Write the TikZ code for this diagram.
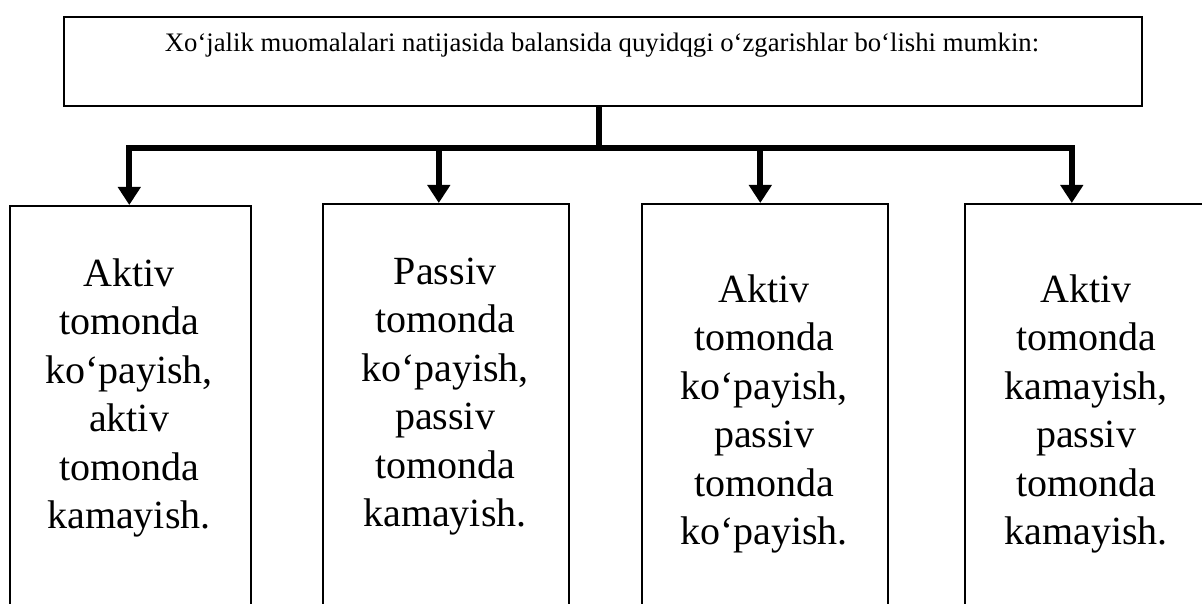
\documentclass[tikz,border=0pt]{standalone}
\usepackage{fontspec}
\setmainfont{Liberation Serif}
\usetikzlibrary{arrows.meta}

\tikzset{
  framebox/.style={draw=black, line width=1.6pt, rectangle, inner sep=0pt},
  colbox/.style={framebox, anchor=north west, minimum width=#1, minimum height=460pt},
  coltext/.style={anchor=base, inner sep=0pt, text width=240pt, align=center,
    font=\fontsize{40}{48.5}\selectfont},
  headtext/.style={anchor=base, inner sep=0pt, font=\fontsize{26.7}{32}\selectfont},
  conn/.style={line width=6pt, line join=miter},
  drop/.style={conn, -{Triangle[width=22pt,length=18pt]}}
}

\begin{document}
\begin{tikzpicture}[x=1pt,y=1pt]
  \useasboundingbox (0,0) rectangle (1202,-604);
  \clip (0,0) rectangle (1202,-604);

  % heading box
  \node[framebox, anchor=north west, minimum width=1078pt, minimum height=89pt]
    (head) at (63,-16) {};
  \node[headtext] (headlbl) at (602,-52)
    {Xo‘jalik muomalalari natijasida balansida quyidqgi o‘zgarishlar bo‘lishi mumkin:};

  % four columns (they run past the lower edge)
  \node[colbox=241pt] (b1) at (9,-205) {};
  \node[colbox=246pt] (b2) at (322,-203) {};
  \node[colbox=246pt] (b3) at (641,-203) {};
  \node[colbox=244pt] (b4) at (964,-203) {};

  \node[coltext] (t1) at (129,-286)
    {Aktiv\\tomonda\\ko‘payish,\\aktiv\\tomonda\\kamayish.};
  \node[coltext] (t2) at (445,-284)
    {Passiv\\tomonda\\ko‘payish,\\passiv\\tomonda\\kamayish.};
  \node[coltext] (t3) at (764,-302)
    {Aktiv\\tomonda\\ko‘payish,\\passiv\\tomonda\\ko‘payish.};
  \node[coltext] (t4) at (1086,-302)
    {Aktiv\\tomonda\\kamayish,\\passiv\\tomonda\\kamayish.};

  % connectors
  \coordinate (j) at ([xshift=-4pt]head.south |- 0,-148);
  \draw[conn] ([xshift=-4pt]head.south) -- (j);
  \draw[drop] (j) -| ([xshift=-1pt]b1.north);
  \draw[drop] (j) -| ([xshift=-7pt]b2.north);
  \draw[drop] (j) -| ([xshift=-4.5pt]b3.north);
  \draw[drop] (j) -| ([xshift=-15pt]b4.north);
\end{tikzpicture}
\end{document}
